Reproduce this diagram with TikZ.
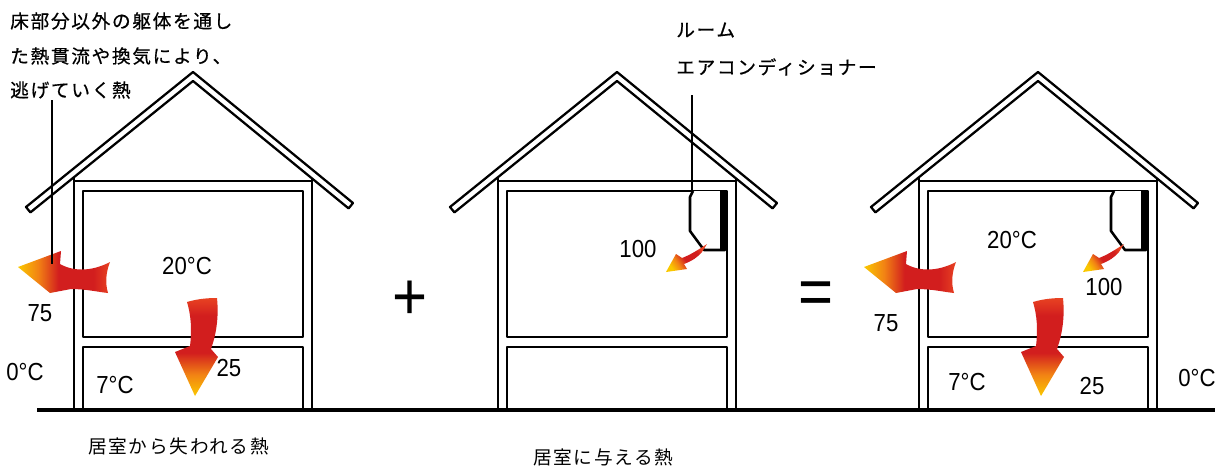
\documentclass[tikz,border=0pt]{standalone}
\usepackage{fontspec}
\setmainfont{Liberation Sans}
\newfontfamily\jpfont[LetterSpace=9,FakeBold=0.6]{Noto Sans CJK JP}
\newfontfamily\jpcapfont[LetterSpace=9]{Noto Sans CJK JP}
\newfontfamily\numfont[FakeStretch=0.9]{Liberation Sans}

% heat-flow colours: yellow head, orange, deep red body, orange-red tail
\definecolor{hY}{RGB}{250,200,0}
\definecolor{hO}{RGB}{242,130,20}
\definecolor{hR}{RGB}{210,30,30}
\definecolor{hT}{RGB}{232,66,34}
\pgfdeclarehorizontalshading{heatflow}{100bp}{color(0bp)=(hY); color(25bp)=(hY); color(36bp)=(hO); color(47bp)=(hR); color(66bp)=(hR); color(75bp)=(hT); color(100bp)=(hT)}

\tikzset{
  wall/.style={line width=1.9pt, line join=round},
  roofband/.style={line width=1.7pt, line join=round, fill=white},
  leader/.style={line width=1.1pt},
  heat/.style={shading=heatflow},
  numlbl/.style={font=\numfont\fontsize{18.5}{18.5}\selectfont, inner sep=0pt},
  bigsign/.style={font=\numfont\fontsize{50}{50}\selectfont, inner sep=0pt},
  jplbl/.style={font=\jpfont\fontsize{14}{14}\selectfont, inner sep=0pt, anchor=west},
  caplbl/.style={font=\jpcapfont\fontsize{14}{14}\selectfont, inner sep=0pt, anchor=west},
}

% one house section, drawn around its ridge at x = 0
\newcommand\housebody{%
  \draw[wall] (-119,410) -- (-119,175);
  \draw[wall] (119,410) -- (119,175);
  \draw[wall] (-119,181) -- (119,181);
  \draw[wall] (-110,191) rectangle (110,337);
  \draw[wall] (-110,347) rectangle (110,410);
  \draw[roofband] (0,72) -- (-167,207) -- (-162.6,212.4) -- (0,81)
        -- (155.6,208.4) -- (160,203) -- cycle;
}
% wall-mounted air conditioner at the upper right of the room
\newcommand\acunit{%
  \draw[wall, fill=white] (76,191) -- (73,197) -- (73,231) -- (87,250) -- (108,250) -- (108,191);
  \fill (103,191) rectangle (109,250);
}
% heat leaving through the outer wall
\newcommand\wallloss{%
  \path[heat] (110,262) .. controls (95,270) and (76,273) .. (60,264) -- (61,251) -- (18,267)
     -- (50,293) -- (71,289) .. controls (86,289) and (98,292) .. (108,293)
     .. controls (105,283) and (106,272) .. (110,262) -- cycle;
}
% heat leaving through the floor
\newcommand\floorloss{%
  \path[heat, shading angle=90] (187,302) .. controls (197,299) and (207,298) .. (217,298)
     .. controls (219,318) and (216,335) .. (211,349) -- (218,357) -- (195,396)
     -- (175,352) -- (190,346) .. controls (192,330) and (191,315) .. (187,302) -- cycle;
}
% warm air blown from the air conditioner
\newcommand\acflow{%
  \path[heat, shading angle=35] (707,244) .. controls (698,250) and (690,255) .. (682,258)
     -- (676,254) -- (666,272) -- (687,269) -- (684,264)
     .. controls (692,261) and (698,257) .. (702,252) -- cycle;
}

\begin{document}
\begin{tikzpicture}[x=0.75pt,y=-0.75pt]
\useasboundingbox (0,0) rectangle (1228,468);
\fill[white] (0,0) rectangle (1228,468);

% ground
\coordinate (gl) at (37,410);
\coordinate (gr) at (1215,410);

% left house: heat lost from the room
\begin{scope}[shift={(193,0)}]\housebody\end{scope}
\wallloss
\floorloss

% middle house: heat supplied to the room
\begin{scope}[shift={(617,0)}]\housebody\acunit\end{scope}
\acflow

% right house: balance
\begin{scope}[shift={(1038,0)}]\housebody\acunit\end{scope}
\begin{scope}[shift={(846,0)}]\wallloss\floorloss\end{scope}
\begin{scope}[shift={(417,0)}]\acflow\end{scope}

\draw[line width=2.3pt] (gl) -- (gr);

% leader lines
\coordinate (lossTop) at (52,100);
\coordinate (lossEnd) at (52,264);
\draw[leader] (lossTop) -- (lossEnd);
\coordinate (acTop) at (692,95);
\coordinate (acEnd) at (692,191);
\draw[leader] (acTop) -- (acEnd);

% captions
\node[jplbl] (t1) at (10,21) {床部分以外の躯体を通し};
\node[jplbl] (t2) at (10,56) {た熱貫流や換気により、};
\node[jplbl] (t3) at (10,90) {逃げていく熱};
\node[jplbl] (ac1) at (676,30) {ルーム};
\node[jplbl] (ac2) at (676,67) {エアコンディショナー};
\node[caplbl] (cap1) at (88,446) {居室から失われる熱};
\node[caplbl] (cap2) at (533,457) {居室に与える熱};

% values, left house
\node[numlbl] (a20) at (187,266) {20°C};
\node[numlbl] (a75) at (40,313) {75};
\node[numlbl] (a0) at (25,372) {0°C};
\node[numlbl] (a7) at (115,385) {7°C};
\node[numlbl] (a25) at (229,368) {25};

% middle house
\node[numlbl] (b100) at (638,249) {100};
\node[bigsign] (plus) at (410,300) {+};
\node[bigsign] (eq) at (816,298) {=};

% right house
\node[numlbl] (c20) at (1012,240) {20°C};
\node[numlbl] (c100) at (1104,287) {100};
\node[numlbl] (c75) at (886,323) {75};
\node[numlbl] (c7) at (967,382) {7°C};
\node[numlbl] (c25) at (1092,386) {25};
\node[numlbl] (c0) at (1197,378) {0°C};
\end{tikzpicture}
\end{document}
